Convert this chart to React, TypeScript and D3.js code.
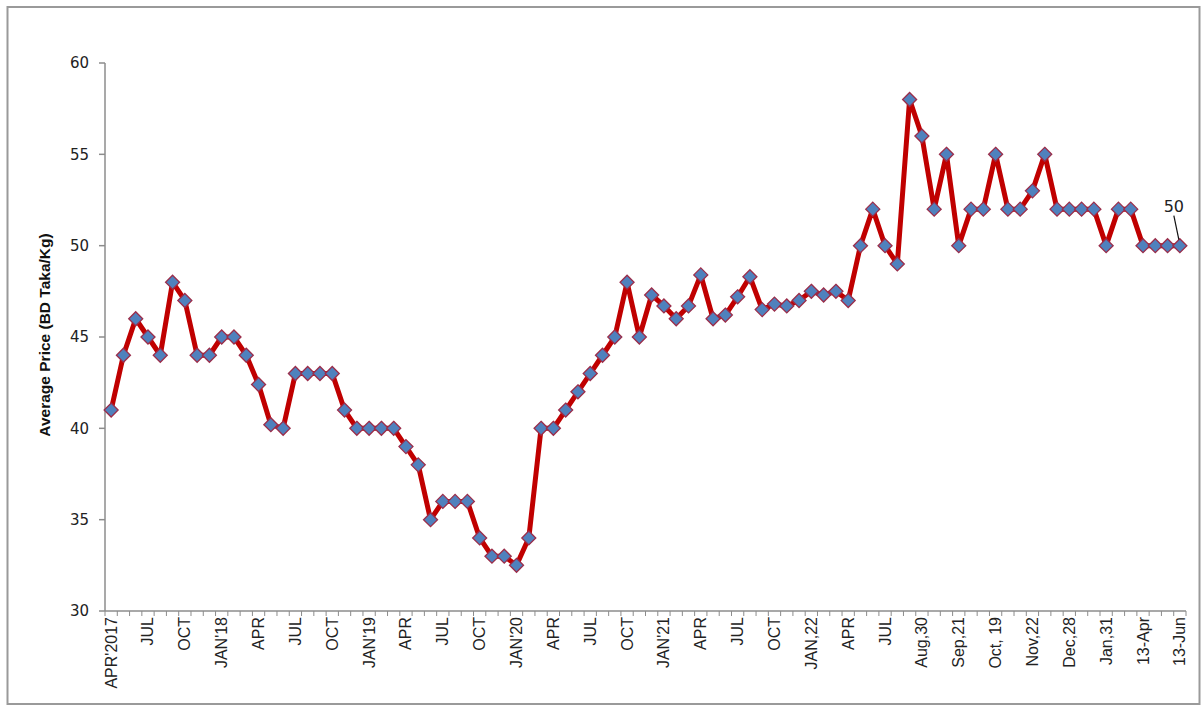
import React from "react";
import * as d3 from "d3";

const categories: string[] = [
  "APR'2017","MAY","JUN","JUL","AUG","SEP","OCT","NOV","DEC","JAN'18","FEB","MAR",
  "APR","MAY","JUN","JUL","AUG","SEP","OCT","NOV","DEC","JAN'19","FEB","MAR",
  "APR","MAY","JUN","JUL","AUG","SEP","OCT","NOV","DEC","JAN'20","FEB","MAR",
  "APR","MAY","JUN","JUL","AUG","SEP","OCT","NOV","DEC","JAN'21","FEB","MAR",
  "APR","MAY","JUN","JUL","AUG","SEP","OCT","NOV","DEC","JAN,22","FEB","MAR",
  "APR","MAY","JUN","JUL","AUG","Aug,16","Aug,30","Sep,07","Sep,14","Sep,21","Sep,28","Oct,05",
  "Oct, 19","Oct,26","Nov,09","Nov,22","Nov,30","Dec,07","Dec,28","Jan,05","Jan,15","Jan,31","Feb,15","Mar,01",
  "13-Apr","20-Apr","30-May","13-Jun"
];

const prices: number[] = [
  41, 44, 46, 45, 44, 48, 47, 44, 44, 45, 45, 44,
  42.4, 40.2, 40, 43, 43, 43, 43, 41, 40, 40, 40, 40,
  39, 38, 35, 36, 36, 36, 34, 33, 33, 32.5, 34, 40,
  40, 41, 42, 43, 44, 45, 48, 45, 47.3, 46.7, 46, 46.7,
  48.4, 46, 46.2, 47.2, 48.3, 46.5, 46.8, 46.7, 47, 47.5, 47.3, 47.5,
  47, 50, 52, 50, 49, 58, 56, 52, 55, 50, 52, 52,
  55, 52, 52, 53, 55, 52, 52, 52, 52, 50, 52, 52,
  50, 50, 50, 50
];

const yTicks: number[] = [30, 35, 40, 45, 50, 55, 60];
const labelEvery = 3;
const lastLabel = "50";

export default function App() {
  const W = 1202, H = 707;
  const x = d3.scaleBand<number>().domain(d3.range(categories.length)).range([105, 1186]).padding(0);
  const y = d3.scaleLinear().domain([30, 60]).range([611, 63]);
  const cx = (i: number) => (x(i) as number) + x.bandwidth() / 2;
  const line = d3.line<number>().x((_, i) => cx(i)).y((d) => y(d));
  const diamond = (px: number, py: number, r: number) =>
    `M${px},${py - r}L${px + r},${py}L${px},${py + r}L${px - r},${py}Z`;
  const lastI = prices.length - 1;
  const axisColor = "#8c8c8c";
  const sans = "'Liberation Sans', Arial, sans-serif";

  return (
    <svg width={W} height={H} style={{ position: "absolute", left: 0, top: 0, background: "#fff" }}>
      <rect x={7.5} y={7} width={1192} height={697} fill="#fff" stroke="#9a9a9a" strokeWidth={2} />
      {/* y axis */}
      <line x1={105} x2={105} y1={y(60)} y2={y(30)} stroke={axisColor} strokeWidth={1.5} />
      {yTicks.map((t) => (
        <g key={t}>
          <line x1={99} x2={105} y1={y(t)} y2={y(t)} stroke={axisColor} strokeWidth={1.5} />
          <text x={89} y={y(t)} dy="0.35em" textAnchor="end" fontFamily="'DejaVu Sans', Verdana, sans-serif" fontSize={15} fill="#222">
            {t}
          </text>
        </g>
      ))}
      {/* x axis */}
      <line x1={105} x2={1186} y1={y(30)} y2={y(30)} stroke={axisColor} strokeWidth={1.5} />
      {d3.range(categories.length + 1).map((i) => {
        const px = i < categories.length ? (x(i) as number) : 1186;
        return <line key={i} x1={px} x2={px} y1={y(30)} y2={y(30) + 5} stroke={axisColor} strokeWidth={1} />;
      })}
      {categories.map((c, i) =>
        i % labelEvery === 0 ? (
          <text
            key={i}
            transform={`translate(${cx(i) + 5.5},${y(30) + 6}) rotate(-90)`}
            textAnchor="end"
            fontFamily={sans}
            fontSize={16}
            fill="#222"
          >
            {c}
          </text>
        ) : null
      )}
      {/* y title */}
      <text
        transform={`translate(50,${(y(30) + y(60)) / 2 - 2}) rotate(-90)`}
        textAnchor="middle"
        fontFamily={sans}
        fontWeight="bold"
        fontSize={15.5}
        fill="#111"
      >
        Average Price (BD Taka/Kg)
      </text>
      {/* series */}
      <path d={line(prices) as string} fill="none" stroke="#C00000" strokeWidth={5} strokeLinejoin="round" />
      {prices.map((v, i) => (
        <path key={i} d={diamond(cx(i), y(v), 7)} fill="#4F81BD" stroke="#9B2D4A" strokeWidth={1.3} />
      ))}
      {/* data label */}
      <line x1={cx(lastI) - 6} y1={y(prices[lastI]) - 30} x2={cx(lastI) - 1} y2={y(prices[lastI]) - 6} stroke="#111" strokeWidth={1.2} />
      <text x={cx(lastI) - 6} y={y(prices[lastI]) - 34} textAnchor="middle" fontFamily="'DejaVu Sans', Verdana, sans-serif" fontSize={16} fill="#222">
        {lastLabel}
      </text>
    </svg>
  );
}
